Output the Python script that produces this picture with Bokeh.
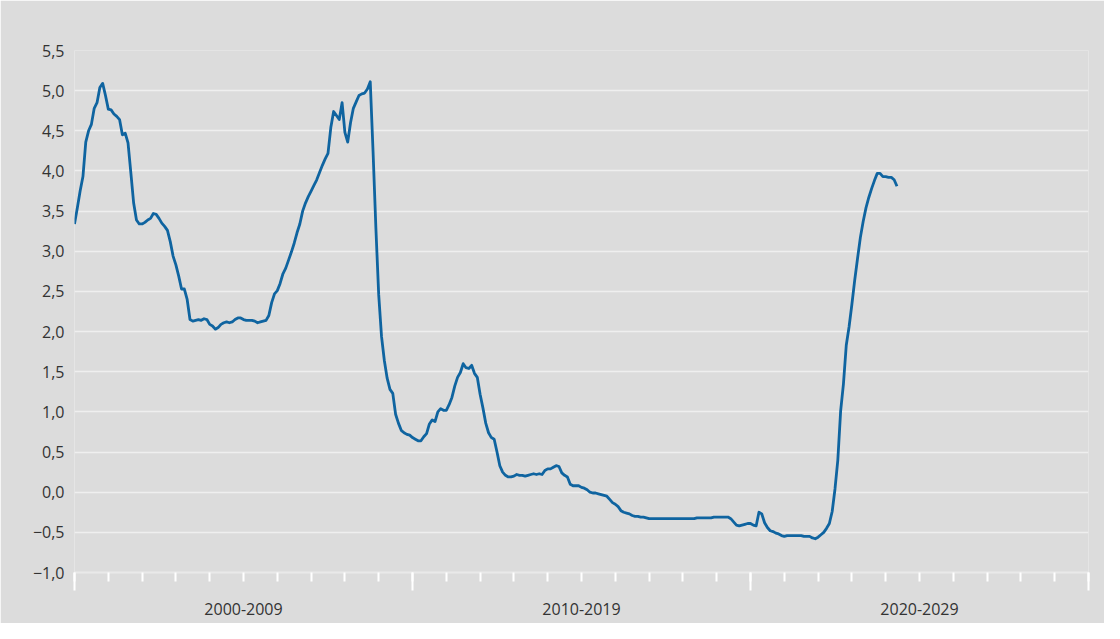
from bokeh.plotting import figure
from bokeh.models import Range1d, FixedTicker, LinearAxis
from bokeh.embed import file_html
from bokeh.resources import INLINE

# Monthly values, January 2000 onward
values_2000s = [
    3.34, 3.54, 3.75, 3.93, 4.36, 4.50, 4.58, 4.78, 4.85, 5.04, 5.09, 4.94,
    4.77, 4.76, 4.71, 4.68, 4.64, 4.45, 4.47, 4.35, 3.98, 3.60, 3.39, 3.34,
    3.34, 3.36, 3.39, 3.41, 3.47, 3.46, 3.41, 3.35, 3.31, 3.26, 3.12, 2.94,
    2.83, 2.69, 2.53, 2.53, 2.40, 2.15, 2.13, 2.14, 2.15, 2.14, 2.16, 2.15,
    2.09, 2.07, 2.03, 2.05, 2.09, 2.11, 2.12, 2.11, 2.12, 2.15, 2.17, 2.17,
    2.15, 2.14, 2.14, 2.14, 2.13, 2.11, 2.12, 2.13, 2.14, 2.20, 2.36, 2.47,
    2.51, 2.60, 2.72, 2.79, 2.89, 2.99, 3.10, 3.23, 3.34, 3.50, 3.60, 3.68,
    3.75, 3.82, 3.89, 3.98, 4.07, 4.15, 4.22, 4.54, 4.74, 4.69, 4.64, 4.85,
    4.48, 4.36, 4.60, 4.78, 4.86, 4.94, 4.96, 4.97, 5.02, 5.11, 4.24, 3.29,
    2.46, 1.94, 1.64, 1.42, 1.28, 1.23, 0.97, 0.86, 0.77, 0.74, 0.72, 0.71,
]
values_2010s = [
    0.68, 0.66, 0.64, 0.64, 0.69, 0.73, 0.85, 0.90, 0.88, 1.00, 1.04, 1.02,
    1.02, 1.09, 1.18, 1.32, 1.43, 1.49, 1.60, 1.55, 1.54, 1.58, 1.48, 1.43,
    1.22, 1.05, 0.86, 0.74, 0.68, 0.66, 0.50, 0.33, 0.25, 0.21, 0.19, 0.19,
    0.20, 0.22, 0.21, 0.21, 0.20, 0.21, 0.22, 0.23, 0.22, 0.23, 0.22, 0.27,
    0.29, 0.29, 0.31, 0.33, 0.32, 0.24, 0.21, 0.19, 0.10, 0.08, 0.08, 0.08,
    0.06, 0.05, 0.03, 0.00, -0.01, -0.01, -0.02, -0.03, -0.04, -0.05, -0.09, -0.13,
    -0.15, -0.18, -0.23, -0.25, -0.26, -0.27, -0.29, -0.30, -0.30, -0.31, -0.31, -0.32,
    -0.33, -0.33, -0.33, -0.33, -0.33, -0.33, -0.33, -0.33, -0.33, -0.33, -0.33, -0.33,
    -0.33, -0.33, -0.33, -0.33, -0.33, -0.32, -0.32, -0.32, -0.32, -0.32, -0.32, -0.31,
    -0.31, -0.31, -0.31, -0.31, -0.31, -0.33, -0.37, -0.41, -0.42, -0.41, -0.40, -0.39,
]
values_2020s = [
    -0.39, -0.41, -0.42, -0.25, -0.27, -0.38, -0.44, -0.48, -0.49, -0.51, -0.52, -0.54,
    -0.55, -0.54, -0.54, -0.54, -0.54, -0.54, -0.54, -0.55, -0.55, -0.55, -0.57, -0.58,
    -0.56, -0.53, -0.50, -0.45, -0.39, -0.24, 0.04, 0.40, 1.01, 1.35, 1.83, 2.06,
    2.34, 2.64, 2.91, 3.17, 3.37, 3.54, 3.67, 3.78, 3.88, 3.97, 3.97, 3.93,
    3.93, 3.92, 3.92, 3.89, 3.81,
]
start_year = 2000

y_ticks = [-1.0, -0.5, 0.0, 0.5, 1.0, 1.5, 2.0, 2.5, 3.0, 3.5, 4.0, 4.5, 5.0, 5.5]
y_tick_labels = ["−1,0", "−0,5", "0,0", "0,5", "1,0", "1,5", "2,0", "2,5",
                 "3,0", "3,5", "4,0", "4,5", "5,0", "5,5"]
decade_starts = [2000, 2010, 2020, 2030]
decade_labels = ["2000-2009", "2010-2019", "2020-2029"]

values = values_2000s + values_2010s + values_2020s
xs = [start_year + i / 12 for i in range(len(values))]

BG = "#dcdcdc"
TXT = "#333333"
FONT = "Open Sans"

p = figure(width=1104, height=623, output_backend="svg", toolbar_location=None,
           x_range=Range1d(decade_starts[0], decade_starts[-1]),
           y_range=Range1d(y_ticks[0], y_ticks[-1]),
           min_border_left=74, min_border_right=16, min_border_top=50,
           min_border_bottom=51, x_axis_location=None)
p.background_fill_color = BG
p.border_fill_color = BG
p.outline_line_color = None

p.line(xs, values, line_color="#0f64a0", line_width=2.8, line_join="round")

# y axis
p.yaxis.ticker = FixedTicker(ticks=y_ticks)
p.yaxis.major_label_overrides = {t: l for t, l in zip(y_ticks, y_tick_labels)}
p.yaxis.axis_line_color = None
p.yaxis.major_tick_line_color = None
p.yaxis.minor_tick_line_color = None
p.yaxis.major_tick_in = 0
p.yaxis.major_tick_out = 0
p.yaxis.minor_tick_in = 0
p.yaxis.minor_tick_out = 0
p.yaxis.major_label_text_font = FONT
p.yaxis.major_label_text_font_size = "16px"
p.yaxis.major_label_text_color = TXT
p.yaxis.major_label_standoff = 10

p.ygrid.ticker = FixedTicker(ticks=y_ticks)
p.ygrid.grid_line_color = "#efefef"
p.ygrid.grid_line_width = 1.6
p.xgrid.grid_line_color = None

# x axis with decade ticks and yearly minor ticks
xa = LinearAxis(ticker=FixedTicker(ticks=decade_starts,
                                   minor_ticks=list(range(decade_starts[0], decade_starts[-1] + 1))))
xa.axis_line_color = "#e9e9e9"
xa.axis_line_width = 2
xa.major_tick_line_color = "white"
xa.major_tick_line_width = 2
xa.major_tick_in = 0
xa.major_tick_out = 18
xa.minor_tick_line_color = "white"
xa.minor_tick_line_width = 2
xa.minor_tick_in = 0
xa.minor_tick_out = 9
xa.major_label_text_font_size = "0px"
xa.major_label_standoff = 0
xa.major_label_overrides = {t: "" for t in decade_starts}
p.add_layout(xa, "below")

mids = [(a + b) / 2 for a, b in zip(decade_starts[:-1], decade_starts[1:])]
xl = LinearAxis(ticker=FixedTicker(ticks=mids, minor_ticks=[]))
xl.major_label_overrides = {m: l for m, l in zip(mids, decade_labels)}
xl.axis_line_color = None
xl.major_tick_line_color = None
xl.minor_tick_line_color = None
xl.major_tick_in = 0
xl.major_tick_out = 0
xl.minor_tick_in = 0
xl.minor_tick_out = 0
xl.major_label_standoff = 12
xl.major_label_text_font = FONT
xl.major_label_text_font_size = "16px"
xl.major_label_text_color = TXT
p.add_layout(xl, "below")

open("out.html", "w").write(file_html(p, INLINE))
